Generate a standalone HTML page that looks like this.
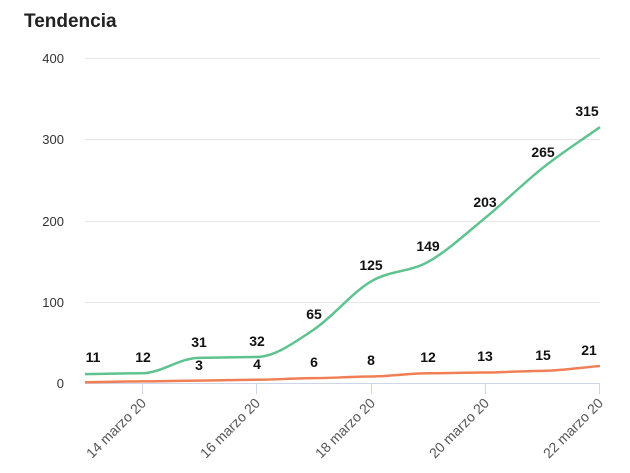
<!DOCTYPE html>
<html><head><meta charset="utf-8"><style>
body{margin:0;background:#fff;width:630px;height:468px;overflow:hidden;font-family:"Liberation Sans",sans-serif}
</style></head><body>
<svg width="630" height="468" xmlns="http://www.w3.org/2000/svg" font-family="Liberation Sans, sans-serif">
<text x="24" y="27" font-size="19" font-weight="bold" fill="#222">Tendencia</text>
<g stroke="#e6e6e6" stroke-width="1">
<line x1="85" y1="58.5" x2="600" y2="58.5"/>
<line x1="85" y1="139.5" x2="600" y2="139.5"/>
<line x1="85" y1="221.5" x2="600" y2="221.5"/>
<line x1="85" y1="302.5" x2="600" y2="302.5"/>
</g>
<line x1="85" y1="383.5" x2="600" y2="383.5" stroke="#ccd6eb"/>
<g stroke="#ccd6eb"><line x1="142.5" y1="383" x2="142.5" y2="394"/><line x1="256.5" y1="383" x2="256.5" y2="394"/><line x1="371.5" y1="383" x2="371.5" y2="394"/><line x1="485.5" y1="383" x2="485.5" y2="394"/><line x1="599.5" y1="383" x2="599.5" y2="394"/></g>
<g font-size="13" fill="#333" text-anchor="end">
<text x="64" y="63">400</text><text x="64" y="144">300</text><text x="64" y="226">200</text><text x="64" y="307">100</text><text x="64" y="388">0</text>
</g>
<g font-size="14" fill="#555" text-anchor="end">
<text transform="translate(147,404) rotate(-45)">14 marzo 20</text>
<text transform="translate(261,404) rotate(-45)">16 marzo 20</text>
<text transform="translate(376,404) rotate(-45)">18 marzo 20</text>
<text transform="translate(490,404) rotate(-45)">20 marzo 20</text>
<text transform="translate(604,404) rotate(-45)">22 marzo 20</text>
</g>
<path id="g" fill="none" stroke="#5ec38f" stroke-width="2.5"/>
<path id="o" fill="none" stroke="#f07f55" stroke-width="2.5"/>
<g font-size="14" font-weight="bold" fill="#111" text-anchor="middle">
<text x="93" y="362">11</text><text x="143" y="362">12</text><text x="199" y="347">31</text><text x="257" y="346">32</text><text x="314" y="319">65</text><text x="371" y="270">125</text><text x="428" y="251">149</text><text x="485" y="207">203</text><text x="543" y="157">265</text><text x="587" y="116">315</text>
<text x="199" y="370">3</text><text x="257" y="369">4</text><text x="314" y="367">6</text><text x="371" y="365">8</text><text x="428" y="362">12</text><text x="485" y="361">13</text><text x="543" y="360">15</text><text x="589" y="355">21</text>
</g>
</svg>
<script>
var xs=[85,142,199,256,313,371,428,485,543,600];
function y(v){return 383-0.8125*v;}
function path(vals){var p=xs.map(function(x,i){return [x,y(vals[i])];});var n=p.length;
var m=p.map(function(q,i){if(i==0)return 0;if(i==n-1)return (p[i][1]-p[i-1][1])/(p[i][0]-p[i-1][0]);var d1=p[i][1]-p[i-1][1],d2=p[i+1][1]-p[i][1];
if(d1*d2<=0||Math.abs(d1)<2||Math.abs(d2)<2)return 0;return (p[i+1][1]-p[i-1][1])/(p[i+1][0]-p[i-1][0]);});
var d="M"+p[0][0]+","+p[0][1];
for(var i=0;i<n-1;i++){var b=p[i],c=p[i+1],h=(c[0]-b[0])/3;
d+=" C"+(b[0]+h)+","+(b[1]+m[i]*h)+" "+(c[0]-h)+","+(c[1]-m[i+1]*h)+" "+c[0]+","+c[1];}return d;}
document.getElementById("g").setAttribute("d",path([11,12,31,32,65,125,149,203,265,315]));
document.getElementById("o").setAttribute("d",path([1,2,3,4,6,8,12,13,15,21]));
</script>
</body></html>
